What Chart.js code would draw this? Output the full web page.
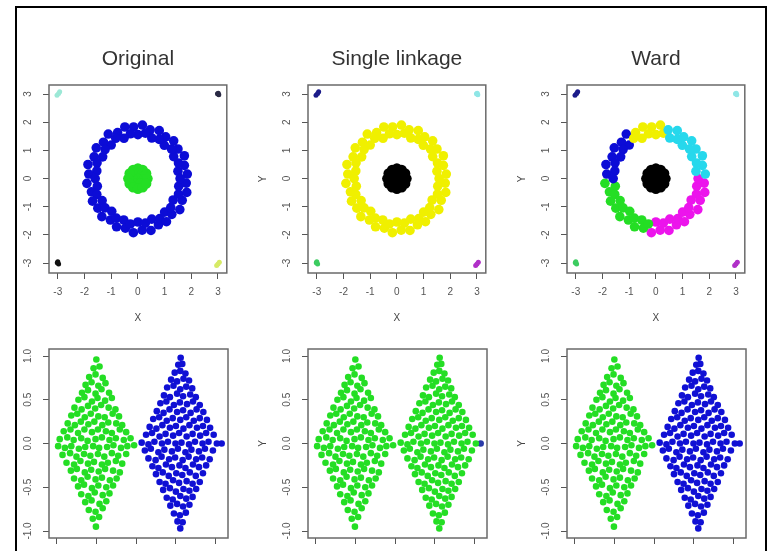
<!DOCTYPE html>
<html>
<head>
<meta charset="utf-8">
<script src="https://cdn.jsdelivr.net/npm/chart.js@4.4.1/dist/chart.umd.min.js"></script>
<style>
  html, body { margin: 0; padding: 0; background: #fff; overflow: hidden; }
  #frame { position: absolute; left: 15px; top: 6px; width: 748px; height: 600px; border: 2px solid #000; overflow: hidden; background: #fff; }
  #frame canvas { position: absolute; filter: blur(0.35px); }
</style>
</head>
<body>
<div id="frame">
  <canvas id="orig" width="243" height="294" style="left:-28px;top:22px"></canvas>
  <canvas id="single" width="243" height="294" style="left:231px;top:22px"></canvas>
  <canvas id="ward" width="243" height="294" style="left:490px;top:22px"></canvas>
  <canvas id="orig2" width="243" height="246" style="left:-28px;top:335px"></canvas>
  <canvas id="single2" width="243" height="246" style="left:231px;top:335px"></canvas>
  <canvas id="ward2" width="243" height="246" style="left:490px;top:335px"></canvas>
</div>
<script>
// ---- top row: ring + core + four corner groups ----
const titles = ["Original", "Single linkage", "Ward"];
const ringTicks = [-3, -2, -1, 0, 1, 2, 3];
const ringTickLabels = ["-3", "-2", "-1", "0", "1", "2", "3"];

// ring split the way Ward cuts it
const ringCyanX = [1.85, 1.50, 1.74, 1.52, 1.74, 1.34, 1.50, 1.26, 1.34, 0.99, 1.04, 0.80, 0.80, 0.52, 0.46];
const ringCyanY = [0.16, 0.26, 0.47, 0.55, 0.81, 0.78, 1.05, 1.05, 1.34, 1.18, 1.48, 1.39, 1.70, 1.44, 1.73];
const ringYellowX = [0.28, 0.17, 0.00, -0.16, -0.28, -0.49, -0.52, -0.76, -0.83];
const ringYellowY = [1.61, 1.90, 1.56, 1.83, 1.59, 1.83, 1.43, 1.63, 1.43];
const ringBlueX = [-1.11, -1.00, -1.29, -1.23, -1.56, -1.32, -1.64, -1.53, -1.87, -1.54, -1.84, -1.60];
const ringBlueY = [1.58, 1.19, 1.29, 1.03, 1.09, 0.77, 0.77, 0.56, 0.50, 0.27, 0.16, 0.00];
const ringGreenX = [-1.91, -1.52, -1.74, -1.54, -1.70, -1.34, -1.50, -1.23, -1.35, -0.98, -1.03, -0.81, -0.80, -0.53, -0.47, -0.28];
const ringGreenY = [-0.17, -0.27, -0.47, -0.56, -0.80, -0.78, -1.05, -1.04, -1.35, -1.16, -1.47, -1.40, -1.71, -1.47, -1.76, -1.61];
const ringMagentaX = [-0.17, 0.00, 0.16, 0.28, 0.49, 0.52, 0.77, 0.82, 1.07, 1.00, 1.27, 1.23, 1.57, 1.32, 1.66, 1.52, 1.83, 1.53, 1.81, 1.58];
const ringMagentaY = [-1.92, -1.54, -1.83, -1.58, -1.84, -1.44, -1.64, -1.42, -1.53, -1.19, -1.27, -1.03, -1.10, -0.76, -0.77, -0.55, -0.49, -0.27, -0.16, 0.00];

const coreX = [0.00, 0.20, 0.10, -0.10, -0.20, -0.10, 0.10, 0.36, 0.31, 0.18, 0.00, -0.18, -0.31, -0.36, -0.31, -0.18, 0.00, 0.18, 0.31];
const coreY = [0.00, 0.00, 0.17, 0.17, 0.00, -0.17, -0.17, 0.00, 0.18, 0.31, 0.36, 0.31, 0.18, 0.00, -0.18, -0.31, -0.36, -0.31, -0.18];

const topLeftX = [-3.03, -2.97, -2.93];
const topLeftY = [2.96, 3.02, 3.08];
const topRightX = [2.98, 3.03, 3.01];
const topRightY = [3.01, 2.97, 3.03];
const bottomLeftX = [-3.02, -2.97, -3.00];
const bottomLeftY = [-2.99, -3.03, -2.95];
const bottomRightX = [2.95, 3.00, 3.05];
const bottomRightY = [-3.08, -3.03, -2.97];

// ---- bottom row: two diamonds ----
const diamondTicksX = [0, 1, 2, 3, 4];
const diamondTickLabelsX = ["0", "1", "2", "3", "4"];
const diamondTicksY = [-1, -0.5, 0, 0.5, 1];
const diamondTickLabelsY = ["-1.0", "-0.5", "0.0", "0.5", "1.0"];

const leftDiamondX = [
  1.00,
  0.93, 1.08,
  0.82, 0.98, 1.16,
  0.73, 0.88, 1.05, 1.23,
  0.64, 0.79, 0.98, 1.13, 1.32,
  0.55, 0.70, 0.89, 1.03, 1.22, 1.39,
  0.45, 0.63, 0.79, 0.97, 1.12, 1.31, 1.48,
  0.37, 0.52, 0.71, 0.86, 1.05, 1.21, 1.41, 1.57,
  0.28, 0.46, 0.61, 0.80, 0.95, 1.15, 1.30, 1.50, 1.65,
  0.18, 0.35, 0.54, 0.70, 0.89, 1.04, 1.24, 1.39, 1.59, 1.75,
  0.08, 0.27, 0.43, 0.62, 0.78, 0.98, 1.14, 1.33, 1.49, 1.69, 1.86,
  0.04, 0.21, 0.37, 0.56, 0.72, 0.92, 1.07, 1.27, 1.43, 1.62, 1.78, 1.95,
  0.15, 0.34, 0.50, 0.69, 0.85, 1.04, 1.20, 1.39, 1.55, 1.75,
  0.25, 0.44, 0.60, 0.79, 0.94, 1.14, 1.29, 1.49, 1.65,
  0.36, 0.51, 0.71, 0.87, 1.06, 1.22, 1.42, 1.59,
  0.44, 0.62, 0.78, 0.98, 1.14, 1.34, 1.51,
  0.54, 0.69, 0.89, 1.05, 1.25, 1.42,
  0.62, 0.80, 0.96, 1.16, 1.33,
  0.72, 0.88, 1.08, 1.25,
  0.81, 0.98, 1.16,
  0.91, 1.07,
  0.99
];
const leftDiamondY = [
  0.96,
  0.86, 0.88,
  0.76, 0.79, 0.75,
  0.67, 0.70, 0.66, 0.69,
  0.58, 0.61, 0.57, 0.62, 0.58,
  0.50, 0.53, 0.48, 0.52, 0.49, 0.52,
  0.41, 0.39, 0.43, 0.40, 0.44, 0.41, 0.39,
  0.32, 0.34, 0.30, 0.34, 0.31, 0.30, 0.34, 0.31,
  0.23, 0.21, 0.25, 0.22, 0.25, 0.21, 0.24, 0.23, 0.21,
  0.14, 0.16, 0.12, 0.16, 0.13, 0.16, 0.14, 0.12, 0.16, 0.13,
  0.05, 0.07, 0.04, 0.06, 0.03, 0.05, 0.07, 0.04, 0.06, 0.04, 0.06,
  -0.03, -0.05, -0.03, -0.06, -0.04, -0.03, -0.05, -0.04, -0.02, -0.05, -0.03, -0.02,
  -0.13, -0.11, -0.15, -0.12, -0.14, -0.12, -0.15, -0.11, -0.14, -0.12,
  -0.22, -0.24, -0.20, -0.23, -0.21, -0.24, -0.22, -0.20, -0.23,
  -0.31, -0.29, -0.33, -0.30, -0.32, -0.29, -0.31, -0.33,
  -0.40, -0.42, -0.38, -0.41, -0.39, -0.42, -0.40,
  -0.49, -0.47, -0.51, -0.48, -0.50, -0.48,
  -0.58, -0.60, -0.56, -0.59, -0.57,
  -0.67, -0.65, -0.69, -0.66,
  -0.76, -0.78, -0.74,
  -0.86, -0.84,
  -0.95
];

const rightDiamondX = [
  3.12,
  3.06, 3.16,
  2.97, 3.11, 3.24,
  2.88, 3.03, 3.19, 3.33,
  2.78, 2.94, 3.11, 3.26, 3.41,
  2.70, 2.85, 3.03, 3.18, 3.36, 3.50,
  2.61, 2.76, 2.95, 3.10, 3.28, 3.43, 3.60,
  2.52, 2.69, 2.84, 3.03, 3.18, 3.37, 3.52, 3.69,
  2.43, 2.58, 2.77, 2.92, 3.11, 3.26, 3.45, 3.60, 3.78,
  2.34, 2.51, 2.66, 2.85, 3.00, 3.19, 3.34, 3.53, 3.68, 3.86,
  2.25, 2.40, 2.59, 2.74, 2.93, 3.08, 3.27, 3.42, 3.61, 3.76, 3.95,
  2.14, 2.31, 2.46, 2.65, 2.80, 2.99, 3.14, 3.33, 3.48, 3.67, 3.82, 4.03,
  2.22, 2.37, 2.56, 2.71, 2.90, 3.05, 3.24, 3.39, 3.58, 3.73, 3.93,
  2.31, 2.49, 2.64, 2.83, 2.98, 3.17, 3.32, 3.51, 3.66, 3.85,
  2.41, 2.56, 2.75, 2.90, 3.09, 3.24, 3.43, 3.58, 3.76,
  2.50, 2.67, 2.82, 3.01, 3.16, 3.35, 3.50, 3.68,
  2.59, 2.74, 2.93, 3.08, 3.27, 3.42, 3.60,
  2.68, 2.85, 3.00, 3.19, 3.34, 3.51,
  2.77, 2.92, 3.11, 3.26, 3.42,
  2.86, 3.03, 3.18, 3.34,
  2.95, 3.10, 3.25,
  3.04, 3.17,
  3.11
];
const rightDiamondY = [
  0.98,
  0.90, 0.91,
  0.81, 0.83, 0.80,
  0.73, 0.71, 0.74, 0.72,
  0.64, 0.66, 0.62, 0.65, 0.63,
  0.55, 0.53, 0.57, 0.54, 0.56, 0.53,
  0.46, 0.48, 0.44, 0.47, 0.45, 0.48, 0.44,
  0.37, 0.35, 0.39, 0.36, 0.38, 0.35, 0.39, 0.36,
  0.28, 0.30, 0.26, 0.29, 0.27, 0.30, 0.26, 0.29, 0.27,
  0.19, 0.17, 0.21, 0.18, 0.20, 0.17, 0.21, 0.18, 0.20, 0.18,
  0.10, 0.12, 0.08, 0.11, 0.09, 0.12, 0.08, 0.11, 0.09, 0.12, 0.10,
  0.01, -0.01, 0.02, 0.00, 0.02, 0.00, 0.01, -0.01, 0.02, 0.00, 0.02, 0.00,
  -0.08, -0.06, -0.10, -0.07, -0.09, -0.06, -0.10, -0.07, -0.09, -0.06, -0.08,
  -0.17, -0.19, -0.15, -0.18, -0.16, -0.19, -0.15, -0.18, -0.16, -0.18,
  -0.26, -0.28, -0.24, -0.27, -0.25, -0.28, -0.24, -0.27, -0.25,
  -0.35, -0.33, -0.37, -0.34, -0.36, -0.33, -0.37, -0.34,
  -0.44, -0.46, -0.42, -0.45, -0.43, -0.46, -0.44,
  -0.53, -0.51, -0.55, -0.52, -0.54, -0.52,
  -0.62, -0.64, -0.60, -0.63, -0.61,
  -0.71, -0.69, -0.72, -0.70,
  -0.80, -0.82, -0.79,
  -0.89, -0.90,
  -0.97
];
const outlierX = [4.15];
const outlierY = [0.00];

const fontFamily = "'Liberation Sans', Arial, Helvetica, sans-serif";
Chart.defaults.font.family = fontFamily;
const tickColor = "#555";

const GREEN = "#24de24";
const BLUE = "#1010d4";
const YELLOW = "#f0f000";
const CYAN = "#26d8ec";
const MAGENTA = "#ec14ec";
const LINK_CORNERS = { tl: "#1c1c8a", tr: "#8fe6e6", bl: "#3ccc60", br: "#b030c8" };

const RING_R = 4.8;
const CORE_R = 5.2;
const DIAMOND_R = 3.3;

function pts(xs, ys) {
  return xs.map((x, i) => ({ x: x, y: ys[i] }));
}
function ds(xs, ys, color, r) {
  return { data: pts(xs, ys), backgroundColor: color, borderWidth: 0, pointRadius: r, pointHoverRadius: r };
}

const ringX = [].concat(ringCyanX, ringYellowX, ringBlueX, ringGreenX, ringMagentaX);
const ringY = [].concat(ringCyanY, ringYellowY, ringBlueY, ringGreenY, ringMagentaY);

function cornerSets(c) {
  return [
    ds(topLeftX, topLeftY, c.tl, 2.5),
    ds(topRightX, topRightY, c.tr, 2.5),
    ds(bottomLeftX, bottomLeftY, c.bl, 2.5),
    ds(bottomRightX, bottomRightY, c.br, 2.5)
  ];
}

function makePanel(id, p) {
  const boxAndLabels = {
    id: "rBox",
    afterDraw(chart) {
      const ctx = chart.ctx;
      const a = chart.chartArea;
      const ys = chart.scales.y;
      ctx.save();
      ctx.strokeStyle = "#6a6a6a";
      ctx.lineWidth = 1.5;
      ctx.strokeRect(a.left, a.top, a.right - a.left, a.bottom - a.top);
      ctx.fillStyle = tickColor;
      ctx.font = "10px " + fontFamily;
      ctx.textAlign = "center";
      ctx.textBaseline = "middle";
      p.yTicks.forEach((v, i) => {
        ctx.save();
        ctx.translate(a.left - 21, ys.getPixelForValue(v));
        ctx.rotate(-Math.PI / 2);
        ctx.fillText(p.yLabels[i], 0, 0);
        ctx.restore();
      });
      ctx.restore();
    }
  };

  return new Chart(document.getElementById(id), {
    type: "scatter",
    data: { datasets: p.datasets },
    options: {
      responsive: false,
      animation: false,
      devicePixelRatio: 1,
      layout: { padding: { left: 0, right: 4, top: p.title ? 0 : 6, bottom: 0 } },
      plugins: {
        legend: { display: false },
        tooltip: { enabled: false },
        title: {
          display: !!p.title,
          text: p.title || "",
          fullSize: false,
          color: "#333",
          font: { size: 21, weight: "normal", family: fontFamily },
          padding: { top: 17, bottom: 12.8 }
        }
      },
      scales: {
        x: {
          type: "linear",
          min: p.xMin,
          max: p.xMax,
          afterBuildTicks: (s) => { s.ticks = p.xTicks.map((v) => ({ value: v })); },
          afterFit: (s) => { s.height = 51; s.paddingLeft = 0; s.paddingRight = 0; },
          border: { display: false },
          grid: { drawOnChartArea: false, drawTicks: true, tickLength: 6, color: "#555" },
          ticks: {
            color: tickColor,
            padding: 7,
            maxRotation: 0,
            autoSkip: false,
            font: { size: 10 },
            callback: (v, i) => p.xLabels[i]
          },
          title: { display: true, text: "X", color: "#444", font: { size: 10 }, padding: 0 }
        },
        y: {
          type: "linear",
          min: p.yMin,
          max: p.yMax,
          afterBuildTicks: (s) => { s.ticks = p.yTicks.map((v) => ({ value: v })); },
          afterFit: (s) => { s.width = 60; s.paddingTop = 0; s.paddingBottom = 0; },
          border: { display: false },
          grid: { drawOnChartArea: false, drawTicks: true, tickLength: 6, color: "#555" },
          ticks: { display: false },
          title: { display: true, text: "Y", color: "#444", font: { size: 10 }, padding: { top: 9, bottom: 0 } }
        }
      }
    },
    plugins: [boxAndLabels]
  });
}

const topAxes = {
  xMin: -3.33, xMax: 3.33, yMin: -3.35, yMax: 3.32,
  xTicks: ringTicks, xLabels: ringTickLabels, yTicks: ringTicks, yLabels: ringTickLabels
};
const bottomAxes = {
  xMin: -0.19, xMax: 4.31, yMin: -1.08, yMax: 1.08,
  xTicks: diamondTicksX, xLabels: diamondTickLabelsX, yTicks: diamondTicksY, yLabels: diamondTickLabelsY
};

makePanel("orig", Object.assign({}, topAxes, {
  title: titles[0],
  datasets: [
    ds(ringX, ringY, "#0c0cd6", RING_R),
    ds(coreX, coreY, GREEN, CORE_R)
  ].concat(cornerSets({ tl: "#9ce8d6", tr: "#2a2a44", bl: "#111111", br: "#d6ea66" }))
}));

makePanel("single", Object.assign({}, topAxes, {
  title: titles[1],
  datasets: [
    ds(ringX, ringY, YELLOW, RING_R),
    ds(coreX, coreY, "#000000", CORE_R)
  ].concat(cornerSets(LINK_CORNERS))
}));

makePanel("ward", Object.assign({}, topAxes, {
  title: titles[2],
  datasets: [
    ds(ringCyanX, ringCyanY, CYAN, RING_R),
    ds(ringYellowX, ringYellowY, YELLOW, RING_R),
    ds(ringBlueX, ringBlueY, "#0c0cd6", RING_R),
    ds(ringGreenX, ringGreenY, GREEN, RING_R),
    ds(ringMagentaX, ringMagentaY, MAGENTA, RING_R),
    ds(coreX, coreY, "#000000", CORE_R)
  ].concat(cornerSets(LINK_CORNERS))
}));

makePanel("orig2", Object.assign({}, bottomAxes, {
  datasets: [
    ds(leftDiamondX, leftDiamondY, GREEN, DIAMOND_R),
    ds(rightDiamondX, rightDiamondY, BLUE, DIAMOND_R),
    ds(outlierX, outlierY, BLUE, DIAMOND_R)
  ]
}));

makePanel("single2", Object.assign({}, bottomAxes, {
  datasets: [
    ds(leftDiamondX, leftDiamondY, GREEN, DIAMOND_R),
    ds(rightDiamondX, rightDiamondY, GREEN, DIAMOND_R),
    ds(outlierX, outlierY, "#2a3aa8", DIAMOND_R)
  ]
}));

makePanel("ward2", Object.assign({}, bottomAxes, {
  datasets: [
    ds(leftDiamondX, leftDiamondY, GREEN, DIAMOND_R),
    ds(rightDiamondX, rightDiamondY, BLUE, DIAMOND_R),
    ds(outlierX, outlierY, BLUE, DIAMOND_R)
  ]
}));
</script>
</body>
</html>
